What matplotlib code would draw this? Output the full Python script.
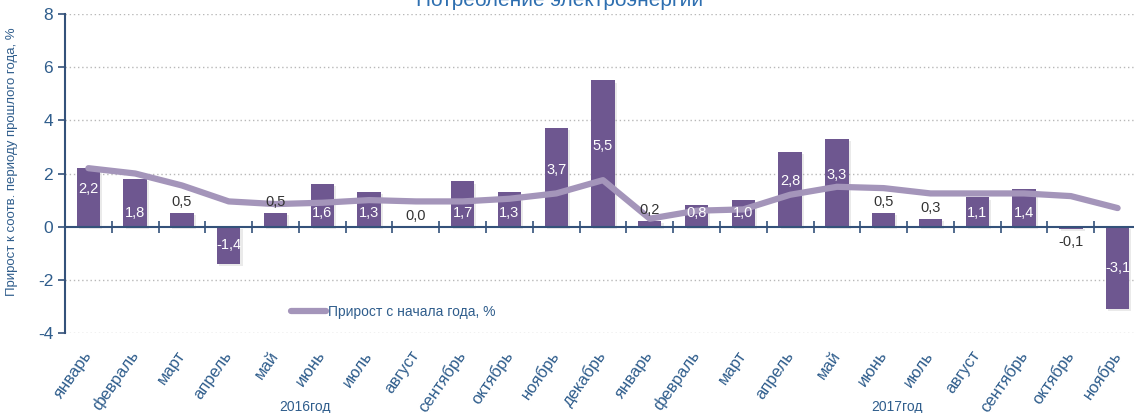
import matplotlib
matplotlib.use("Agg")
import matplotlib.pyplot as plt
import matplotlib.patheffects as pe
import numpy as np

months = ["январь", "февраль", "март", "апрель", "май", "июнь", "июль", "август",
          "сентябрь", "октябрь", "ноябрь", "декабрь",
          "январь", "февраль", "март", "апрель", "май", "июнь", "июль", "август",
          "сентябрь", "октябрь", "ноябрь"]
yoy = [2.2, 1.8, 0.5, -1.4, 0.5, 1.6, 1.3, 0.0, 1.7, 1.3, 3.7, 5.5,
       0.2, 0.8, 1.0, 2.8, 3.3, 0.5, 0.3, 1.1, 1.4, -0.1, -3.1]
ytd = [2.2, 2.0, 1.55, 0.95, 0.85, 0.9, 1.0, 0.95, 0.95, 1.05, 1.25, 1.75,
       0.3, 0.6, 0.65, 1.2, 1.5, 1.45, 1.25, 1.25, 1.25, 1.15, 0.7]
years = ["2016год", "2017год"]
title = "Потребление электроэнергии"
ylabel = "Прирост к соотв. периоду прошлого года, %"
legend_label = "Прирост с начала года, %"

FONT = ["Liberation Sans Narrow", "Liberation Sans", "DejaVu Sans"]
plt.rcParams["font.family"] = FONT

BAR = "#6e5790"
LINE = "#a495ba"
BLUE = "#2f5d8c"
AXC = "#34527a"

fig = plt.figure(figsize=(11.34, 4.13), dpi=100)
W, H = 1134, 413
ax = fig.add_axes([65 / W, (H - 333) / H, (1141 - 65) / W, (333 - 14) / H])

x = np.arange(len(months))
bars = ax.bar(x, yoy, width=0.5, color=BAR, zorder=3)
for b in bars:
    b.set_path_effects([pe.SimplePatchShadow(offset=(1.5, -1.5), shadow_rgbFace="#999999", alpha=0.2),
                        pe.Normal()])
ax.plot(x, ytd, color=LINE, lw=4.5, solid_capstyle="round", zorder=4, label=legend_label)

ax.set_xlim(-0.5, len(months) - 0.5)
ax.set_ylim(-4, 8)
ax.set_yticks([-4, -2, 0, 2, 4, 6, 8])
ax.set_yticklabels(["-4", "-2", "0", "2", "4", "6", "8"])
ax.tick_params(axis="y", colors=AXC, labelcolor=BLUE, labelsize=12.5, length=5, width=1.2)
for t in [-4, -2, 2, 4, 6, 8]:
    ax.axhline(t, color="#b8b8b8", lw=1, ls=(0, (1, 2)), zorder=1)

for s in ["top", "right", "bottom"]:
    ax.spines[s].set_visible(False)
ax.spines["left"].set_color(AXC)
ax.spines["left"].set_linewidth(1.5)

ax.set_xticks(x)
ax.set_xticklabels(months, rotation=55, ha="right", va="center", rotation_mode="anchor",
                   fontsize=12, color=BLUE)
ax.tick_params(axis="x", length=0, pad=14)

# zero axis with ticks at category boundaries
ax.axhline(0, color=AXC, lw=1.5, zorder=5)
sec = ax.secondary_xaxis(1 / 3)
sec.set_xticks(np.arange(-0.5, len(months) + 0.5, 1.0))
sec.set_xticklabels([])
sec.tick_params(direction="inout", length=8, width=1.2, colors=AXC)
sec.spines["bottom"].set_visible(False)
sec.spines["top"].set_visible(False)

# value labels
for xi, v in zip(x, yoy):
    txt = f"{v:.1f}".replace(".", ",")
    if v >= 2:
        ax.text(xi, v / 2 + 0.3, txt, ha="center", va="center", color="white", fontsize=10.5, zorder=6)
    elif v >= 0.75:
        ax.text(xi, 0.5, txt, ha="center", va="center", color="white", fontsize=10.5, zorder=6)
    elif v <= -0.75:
        ax.text(xi, v / 2, txt, ha="center", va="center", color="white", fontsize=10.5, zorder=6)
    elif v >= 0:
        ax.text(xi, v + 0.15, txt, ha="center", va="bottom", color="#333333",
                fontsize=10.5, zorder=6)
    else:
        ax.text(xi, v - 0.2, txt, ha="center", va="top", color="#333333",
                fontsize=10.5, zorder=6)

ax.set_ylabel(ylabel, color=BLUE, fontsize=9.5)
ax.yaxis.set_label_coords(-0.0437, 0.536)

leg = ax.legend(loc="center left", bbox_to_anchor=(0.205, 0.065), frameon=False,
                fontsize=10, handlelength=2.5, handletextpad=0.15, borderaxespad=0)
for t in leg.get_texts():
    t.set_color(BLUE)

fig.text(305 / W, 1 - 407 / H, years[0], ha="center", va="center", color=BLUE, fontsize=10)
fig.text(897 / W, 1 - 407 / H, years[1], ha="center", va="center", color=BLUE, fontsize=10)
fig.text(560 / W, 1 - 6 / H, title, ha="center", va="baseline", color="#2e6fb0", fontsize=15)

fig.savefig("out.png", dpi=100)
